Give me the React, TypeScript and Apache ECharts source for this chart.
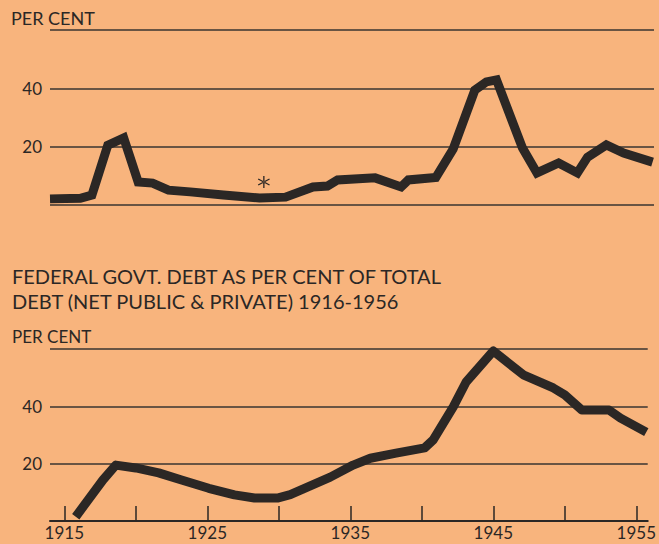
import React, { useEffect, useRef } from "react";
import * as echarts from "echarts";

// Upper chart (title not visible in the picture) – per cent
const spendYears = [1914.0, 1916.1, 1916.9, 1918.0, 1919.1, 1920.1, 1921.1, 1922.2, 1923.7, 1926.0, 1928.5, 1930.3, 1932.2, 1933.2, 1933.9, 1936.5, 1938.3, 1938.8, 1940.7, 1941.9, 1943.4, 1944.2, 1944.9, 1946.7, 1947.7, 1949.2, 1950.5, 1951.2, 1952.5, 1953.7, 1955.7];
const spendValues = [2.1, 2.3, 3.4, 20.5, 23.0, 7.9, 7.5, 5.1, 4.5, 3.4, 2.4, 2.7, 6.2, 6.5, 8.6, 9.3, 6.2, 8.6, 9.4, 19.2, 39.4, 42.2, 42.9, 19.5, 11.0, 14.4, 11.0, 16.4, 20.6, 17.8, 14.7];

// Federal govt. debt as per cent of total debt
const debtYears = [1915.8, 1917.7, 1918.6, 1920.0, 1921.6, 1923.2, 1925.1, 1926.9, 1928.3, 1929.9, 1930.8, 1933.6, 1935.2, 1936.4, 1938.2, 1940.2, 1940.8, 1942.2, 1943.1, 1945.0, 1947.1, 1949.2, 1950.0, 1951.2, 1953.1, 1953.9, 1955.7];
const debtValues = [1.5, 14.3, 19.5, 18.5, 16.8, 14.3, 11.4, 9.1, 8.0, 8.0, 9.2, 15.3, 19.5, 21.9, 23.7, 25.5, 28.3, 39.8, 48.5, 59.3, 51.0, 46.4, 44.0, 38.7, 38.7, 35.9, 31.0];

const yTickLabels = [20, 40];
const xTickYears = [1915, 1920, 1925, 1930, 1935, 1940, 1945, 1950, 1955];
const xLabelYears = [1915, 1925, 1935, 1945, 1955];

const noteYear = 1928.8;
const noteValue = 7.9;

const titleLine1 = "FEDERAL GOVT. DEBT AS PER CENT OF TOTAL";
const titleLine2 = "DEBT (NET PUBLIC & PRIVATE) 1916-1956";
const unitLabel = "PER CENT";

const INK = "#2b2725";
const BG = "#f8b47d";
const FONT = "Lato";

const asteriskPath =
  "path://M11,2H13V22H11Z M2.84,7.87L20.16,17.87L21.16,16.13L3.84,6.13Z M3.84,17.87L21.16,7.87L20.16,6.13L2.84,16.13Z";

export default function App() {
  const ref = useRef<HTMLDivElement>(null);

  useEffect(() => {
    if (!ref.current) return;
    const chart = echarts.init(ref.current, null, { renderer: "svg" });

    const yAxisBase = (gridIndex: number) => ({
      type: "value",
      gridIndex,
      min: 0,
      max: 60,
      interval: 20,
      axisLine: { show: false },
      axisTick: { show: false },
      axisLabel: {
        customValues: yTickLabels,
        color: INK,
        fontFamily: FONT,
        fontSize: 17,
        margin: 8,
      },
      splitLine: { show: true, lineStyle: { color: "#3a3430", width: 1.5 } },
    });

    chart.setOption({
      animation: false,
      backgroundColor: BG,
      grid: [
        { left: 50, width: 604, top: 30, height: 175 },
        { left: 50, width: 604, top: 349, height: 172 },
      ],
      xAxis: [
        { type: "value", gridIndex: 0, min: 1914, max: 1955.8, show: false },
        {
          type: "value",
          gridIndex: 1,
          min: 1914,
          max: 1955.8,
          axisLine: { show: true, lineStyle: { color: INK, width: 2 } },
          axisTick: {
            show: true,
            customValues: xTickYears,
            inside: true,
            length: 15,
            lineStyle: { color: INK, width: 1.5 },
          },
          axisLabel: {
            customValues: xLabelYears,
            color: INK,
            fontFamily: FONT,
            fontSize: 17,
            margin: 3,
            formatter: (v: number) => String(v),
          },
          splitLine: { show: false },
        },
      ],
      yAxis: [yAxisBase(0), yAxisBase(1)],
      series: [
        {
          type: "line",
          xAxisIndex: 0,
          yAxisIndex: 0,
          data: spendYears.map((y, i) => [y, spendValues[i]]),
          showSymbol: false,
          clip: false,
          lineStyle: { color: INK, width: 9, join: "miter", cap: "butt" },
          markPoint: {
            symbol: asteriskPath,
            symbolSize: 12,
            itemStyle: { color: INK },
            label: { show: false },
            data: [{ coord: [noteYear, noteValue] }],
          },
        },
        {
          type: "line",
          xAxisIndex: 1,
          yAxisIndex: 1,
          data: debtYears.map((y, i) => [y, debtValues[i]]),
          showSymbol: false,
          clip: false,
          lineStyle: { color: INK, width: 9, join: "round", cap: "butt" },
        },
      ],
      graphic: [
        {
          type: "text",
          x: 11,
          y: 18,
          style: { text: unitLabel, fontFamily: FONT, fontSize: 18, fill: INK, verticalAlign: "middle" },
        },
        {
          type: "text",
          x: 12,
          y: 276,
          style: { text: titleLine1, fontFamily: FONT, fontSize: 20, fill: INK, verticalAlign: "middle" },
        },
        {
          type: "text",
          x: 12,
          y: 301,
          style: { text: titleLine2, fontFamily: FONT, fontSize: 20, fill: INK, verticalAlign: "middle" },
        },
        {
          type: "text",
          x: 12,
          y: 336,
          style: { text: unitLabel, fontFamily: FONT, fontSize: 17, fill: INK, verticalAlign: "middle" },
        },
      ],
    });

    return () => chart.dispose();
  }, []);

  return (
    <div
      ref={ref}
      style={{ position: "fixed", left: 0, top: 0, width: 659, height: 544 }}
    />
  );
}
